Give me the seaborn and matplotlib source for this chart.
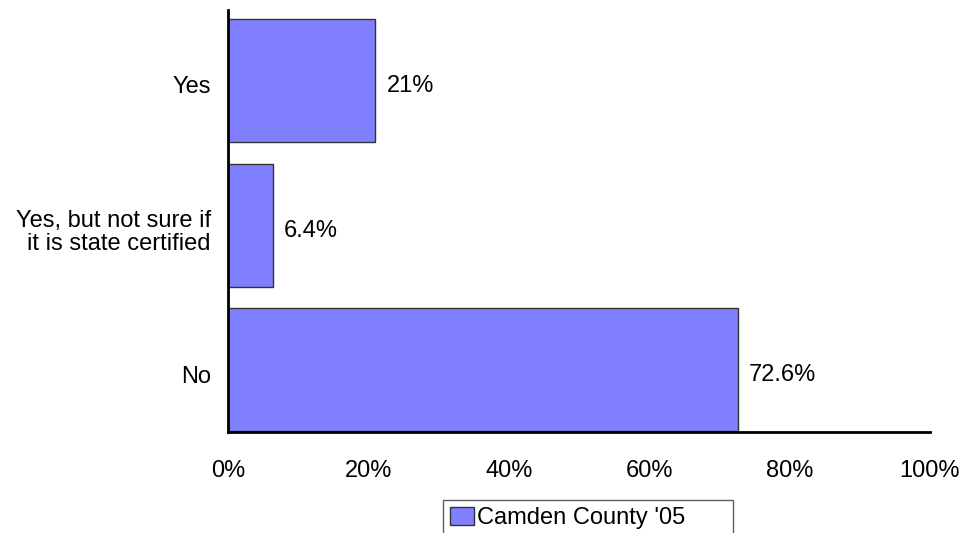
import pandas as pd
import matplotlib
matplotlib.use("Agg")
import matplotlib.pyplot as plt
import matplotlib.transforms as mtransforms
import seaborn as sns

# Survey answers and their share of respondents
categories = ["Yes", "Yes, but not sure if\nit is state certified", "No"]
percentages = [21.0, 6.4, 72.6]
value_labels = ["21%", "6.4%", "72.6%"]
x_ticks = [0, 20, 40, 60, 80, 100]
x_tick_labels = ["0%", "20%", "40%", "60%", "80%", "100%"]
series_name = "Camden County '05"

df = pd.DataFrame({"answer": categories, "pct": percentages})

sns.set_style("white")
plt.rcParams["font.family"] = ["Liberation Sans", "DejaVu Sans"]
plt.rcParams["font.size"] = 17
plt.rcParams["text.color"] = "black"
plt.rcParams["xtick.color"] = "black"
plt.rcParams["ytick.color"] = "black"

fig = plt.figure(figsize=(9.64, 5.33), dpi=100)
ax = fig.add_axes([228 / 964, 1 - 432 / 533, (930 - 228) / 964, (432 - 10) / 533])

sns.barplot(data=df, x="pct", y="answer", orient="h", color="#8080FF",
            saturation=1, width=0.85, edgecolor="#333333", linewidth=1,
            label=series_name, ax=ax)

# value labels next to each bar, sitting a little low like the original
texts = ax.bar_label(ax.containers[0], labels=value_labels, padding=8,
                     fontsize=17, color="black")
for t in texts:
    t.xyann = (t.xyann[0], t.xyann[1] - 4)

ax.set_xlim(0, 100)
ax.set_ylim(2.43, -0.49)
ax.set_xticks(x_ticks)
ax.set_xticklabels(x_tick_labels)
ax.set_xlabel("")
ax.set_ylabel("")
ax.tick_params(axis="x", length=0, pad=20, labelsize=17)
ax.tick_params(axis="y", length=0, pad=12.5, labelsize=17)
shift = mtransforms.ScaledTranslation(0, -3 / 72, fig.dpi_scale_trans)
for lbl in ax.get_yticklabels():
    lbl.set_horizontalalignment("right")
    lbl.set_multialignment("right")
    lbl.set_linespacing(1.05)
    lbl.set_transform(lbl.get_transform() + shift)

sns.despine(ax=ax, top=True, right=True)
for side in ["left", "bottom"]:
    ax.spines[side].set_color("black")
    ax.spines[side].set_linewidth(2)

if ax.legend_:
    ax.legend_.remove()
handles, labels = ax.get_legend_handles_labels()
leg = fig.legend(handles[:1], [series_name], loc="upper left", mode="expand",
                 bbox_to_anchor=(443 / 964, 1 - 500 / 533 - 0.1, 290 / 964, 0.1),
                 frameon=True, fancybox=False, edgecolor="#333333",
                 borderaxespad=0, handlelength=1.0, handleheight=0.8,
                 handletextpad=0.15, borderpad=0.3, fontsize=17)
leg.get_frame().set_linewidth(1)

fig.savefig("out.png", dpi=100)
